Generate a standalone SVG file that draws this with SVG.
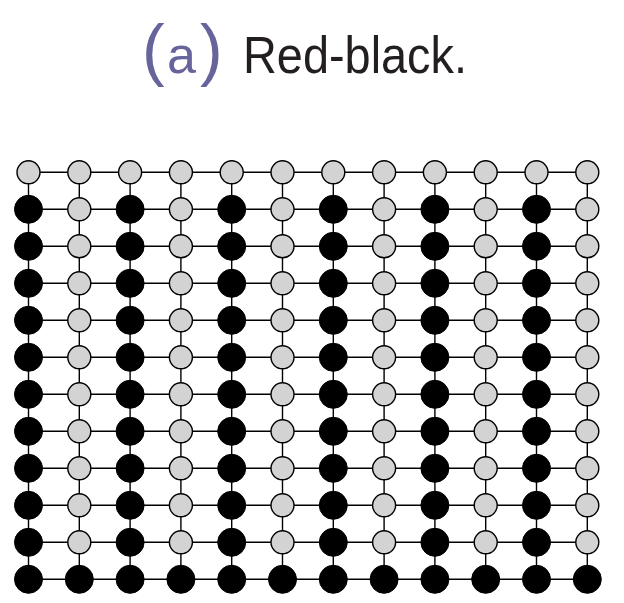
<svg xmlns="http://www.w3.org/2000/svg" width="624" height="603" viewBox="0 0 624 603">
<style>
.e{stroke:#000;stroke-width:1.4;fill:none}
.g{fill:#d3d3d3;stroke:#000;stroke-width:1.4}
.b{fill:#000;stroke:#000;stroke-width:1}
.t{font-family:"Liberation Sans",Arial,sans-serif;font-size:52px}
.p{font-size:68px}
</style>
<rect width="624" height="603" fill="#fff"/>
<g id="title">
<text class="t" y="73.3" fill="#67649c"><tspan class="p" x="142">(</tspan><tspan x="167">a</tspan><tspan class="p" x="200">)</tspan></text>
<text class="t" x="243" y="73.3" fill="#231f20" textLength="224" lengthAdjust="spacingAndGlyphs">Red-black.</text>
</g>
<g id="connectors">
<path class="e" d="M28.5 172.3H587.3M28.5 209.3H587.3M28.5 246.3H587.3M28.5 283.3H587.3M28.5 320.3H587.3M28.5 357.3H587.3M28.5 394.3H587.3M28.5 431.3H587.3M28.5 468.3H587.3M28.5 505.3H587.3M28.5 542.3H587.3M28.5 579.3H587.3"/>
<path class="e" d="M28.5 172.3V579.3M79.3 172.3V579.3M130.1 172.3V579.3M180.9 172.3V579.3M231.7 172.3V579.3M282.5 172.3V579.3M333.3 172.3V579.3M384.1 172.3V579.3M434.9 172.3V579.3M485.7 172.3V579.3M536.5 172.3V579.3M587.3 172.3V579.3"/>
</g>
<g id="row0">
<g id="n0-0"><circle class="g" cx="28.5" cy="172.3" r="11.5"/></g>
<g id="n0-1"><circle class="g" cx="79.3" cy="172.3" r="11.5"/></g>
<g id="n0-2"><circle class="g" cx="130.1" cy="172.3" r="11.5"/></g>
<g id="n0-3"><circle class="g" cx="180.9" cy="172.3" r="11.5"/></g>
<g id="n0-4"><circle class="g" cx="231.7" cy="172.3" r="11.5"/></g>
<g id="n0-5"><circle class="g" cx="282.5" cy="172.3" r="11.5"/></g>
<g id="n0-6"><circle class="g" cx="333.3" cy="172.3" r="11.5"/></g>
<g id="n0-7"><circle class="g" cx="384.1" cy="172.3" r="11.5"/></g>
<g id="n0-8"><circle class="g" cx="434.9" cy="172.3" r="11.5"/></g>
<g id="n0-9"><circle class="g" cx="485.7" cy="172.3" r="11.5"/></g>
<g id="n0-10"><circle class="g" cx="536.5" cy="172.3" r="11.5"/></g>
<g id="n0-11"><circle class="g" cx="587.3" cy="172.3" r="11.5"/></g>
</g>
<g id="row1">
<g id="n1-0"><circle class="b" cx="28.5" cy="209.3" r="14"/></g>
<g id="n1-1"><circle class="g" cx="79.3" cy="209.3" r="11.5"/></g>
<g id="n1-2"><circle class="b" cx="130.1" cy="209.3" r="14"/></g>
<g id="n1-3"><circle class="g" cx="180.9" cy="209.3" r="11.5"/></g>
<g id="n1-4"><circle class="b" cx="231.7" cy="209.3" r="14"/></g>
<g id="n1-5"><circle class="g" cx="282.5" cy="209.3" r="11.5"/></g>
<g id="n1-6"><circle class="b" cx="333.3" cy="209.3" r="14"/></g>
<g id="n1-7"><circle class="g" cx="384.1" cy="209.3" r="11.5"/></g>
<g id="n1-8"><circle class="b" cx="434.9" cy="209.3" r="14"/></g>
<g id="n1-9"><circle class="g" cx="485.7" cy="209.3" r="11.5"/></g>
<g id="n1-10"><circle class="b" cx="536.5" cy="209.3" r="14"/></g>
<g id="n1-11"><circle class="g" cx="587.3" cy="209.3" r="11.5"/></g>
</g>
<g id="row2">
<g id="n2-0"><circle class="b" cx="28.5" cy="246.3" r="14"/></g>
<g id="n2-1"><circle class="g" cx="79.3" cy="246.3" r="11.5"/></g>
<g id="n2-2"><circle class="b" cx="130.1" cy="246.3" r="14"/></g>
<g id="n2-3"><circle class="g" cx="180.9" cy="246.3" r="11.5"/></g>
<g id="n2-4"><circle class="b" cx="231.7" cy="246.3" r="14"/></g>
<g id="n2-5"><circle class="g" cx="282.5" cy="246.3" r="11.5"/></g>
<g id="n2-6"><circle class="b" cx="333.3" cy="246.3" r="14"/></g>
<g id="n2-7"><circle class="g" cx="384.1" cy="246.3" r="11.5"/></g>
<g id="n2-8"><circle class="b" cx="434.9" cy="246.3" r="14"/></g>
<g id="n2-9"><circle class="g" cx="485.7" cy="246.3" r="11.5"/></g>
<g id="n2-10"><circle class="b" cx="536.5" cy="246.3" r="14"/></g>
<g id="n2-11"><circle class="g" cx="587.3" cy="246.3" r="11.5"/></g>
</g>
<g id="row3">
<g id="n3-0"><circle class="b" cx="28.5" cy="283.3" r="14"/></g>
<g id="n3-1"><circle class="g" cx="79.3" cy="283.3" r="11.5"/></g>
<g id="n3-2"><circle class="b" cx="130.1" cy="283.3" r="14"/></g>
<g id="n3-3"><circle class="g" cx="180.9" cy="283.3" r="11.5"/></g>
<g id="n3-4"><circle class="b" cx="231.7" cy="283.3" r="14"/></g>
<g id="n3-5"><circle class="g" cx="282.5" cy="283.3" r="11.5"/></g>
<g id="n3-6"><circle class="b" cx="333.3" cy="283.3" r="14"/></g>
<g id="n3-7"><circle class="g" cx="384.1" cy="283.3" r="11.5"/></g>
<g id="n3-8"><circle class="b" cx="434.9" cy="283.3" r="14"/></g>
<g id="n3-9"><circle class="g" cx="485.7" cy="283.3" r="11.5"/></g>
<g id="n3-10"><circle class="b" cx="536.5" cy="283.3" r="14"/></g>
<g id="n3-11"><circle class="g" cx="587.3" cy="283.3" r="11.5"/></g>
</g>
<g id="row4">
<g id="n4-0"><circle class="b" cx="28.5" cy="320.3" r="14"/></g>
<g id="n4-1"><circle class="g" cx="79.3" cy="320.3" r="11.5"/></g>
<g id="n4-2"><circle class="b" cx="130.1" cy="320.3" r="14"/></g>
<g id="n4-3"><circle class="g" cx="180.9" cy="320.3" r="11.5"/></g>
<g id="n4-4"><circle class="b" cx="231.7" cy="320.3" r="14"/></g>
<g id="n4-5"><circle class="g" cx="282.5" cy="320.3" r="11.5"/></g>
<g id="n4-6"><circle class="b" cx="333.3" cy="320.3" r="14"/></g>
<g id="n4-7"><circle class="g" cx="384.1" cy="320.3" r="11.5"/></g>
<g id="n4-8"><circle class="b" cx="434.9" cy="320.3" r="14"/></g>
<g id="n4-9"><circle class="g" cx="485.7" cy="320.3" r="11.5"/></g>
<g id="n4-10"><circle class="b" cx="536.5" cy="320.3" r="14"/></g>
<g id="n4-11"><circle class="g" cx="587.3" cy="320.3" r="11.5"/></g>
</g>
<g id="row5">
<g id="n5-0"><circle class="b" cx="28.5" cy="357.3" r="14"/></g>
<g id="n5-1"><circle class="g" cx="79.3" cy="357.3" r="11.5"/></g>
<g id="n5-2"><circle class="b" cx="130.1" cy="357.3" r="14"/></g>
<g id="n5-3"><circle class="g" cx="180.9" cy="357.3" r="11.5"/></g>
<g id="n5-4"><circle class="b" cx="231.7" cy="357.3" r="14"/></g>
<g id="n5-5"><circle class="g" cx="282.5" cy="357.3" r="11.5"/></g>
<g id="n5-6"><circle class="b" cx="333.3" cy="357.3" r="14"/></g>
<g id="n5-7"><circle class="g" cx="384.1" cy="357.3" r="11.5"/></g>
<g id="n5-8"><circle class="b" cx="434.9" cy="357.3" r="14"/></g>
<g id="n5-9"><circle class="g" cx="485.7" cy="357.3" r="11.5"/></g>
<g id="n5-10"><circle class="b" cx="536.5" cy="357.3" r="14"/></g>
<g id="n5-11"><circle class="g" cx="587.3" cy="357.3" r="11.5"/></g>
</g>
<g id="row6">
<g id="n6-0"><circle class="b" cx="28.5" cy="394.3" r="14"/></g>
<g id="n6-1"><circle class="g" cx="79.3" cy="394.3" r="11.5"/></g>
<g id="n6-2"><circle class="b" cx="130.1" cy="394.3" r="14"/></g>
<g id="n6-3"><circle class="g" cx="180.9" cy="394.3" r="11.5"/></g>
<g id="n6-4"><circle class="b" cx="231.7" cy="394.3" r="14"/></g>
<g id="n6-5"><circle class="g" cx="282.5" cy="394.3" r="11.5"/></g>
<g id="n6-6"><circle class="b" cx="333.3" cy="394.3" r="14"/></g>
<g id="n6-7"><circle class="g" cx="384.1" cy="394.3" r="11.5"/></g>
<g id="n6-8"><circle class="b" cx="434.9" cy="394.3" r="14"/></g>
<g id="n6-9"><circle class="g" cx="485.7" cy="394.3" r="11.5"/></g>
<g id="n6-10"><circle class="b" cx="536.5" cy="394.3" r="14"/></g>
<g id="n6-11"><circle class="g" cx="587.3" cy="394.3" r="11.5"/></g>
</g>
<g id="row7">
<g id="n7-0"><circle class="b" cx="28.5" cy="431.3" r="14"/></g>
<g id="n7-1"><circle class="g" cx="79.3" cy="431.3" r="11.5"/></g>
<g id="n7-2"><circle class="b" cx="130.1" cy="431.3" r="14"/></g>
<g id="n7-3"><circle class="g" cx="180.9" cy="431.3" r="11.5"/></g>
<g id="n7-4"><circle class="b" cx="231.7" cy="431.3" r="14"/></g>
<g id="n7-5"><circle class="g" cx="282.5" cy="431.3" r="11.5"/></g>
<g id="n7-6"><circle class="b" cx="333.3" cy="431.3" r="14"/></g>
<g id="n7-7"><circle class="g" cx="384.1" cy="431.3" r="11.5"/></g>
<g id="n7-8"><circle class="b" cx="434.9" cy="431.3" r="14"/></g>
<g id="n7-9"><circle class="g" cx="485.7" cy="431.3" r="11.5"/></g>
<g id="n7-10"><circle class="b" cx="536.5" cy="431.3" r="14"/></g>
<g id="n7-11"><circle class="g" cx="587.3" cy="431.3" r="11.5"/></g>
</g>
<g id="row8">
<g id="n8-0"><circle class="b" cx="28.5" cy="468.3" r="14"/></g>
<g id="n8-1"><circle class="g" cx="79.3" cy="468.3" r="11.5"/></g>
<g id="n8-2"><circle class="b" cx="130.1" cy="468.3" r="14"/></g>
<g id="n8-3"><circle class="g" cx="180.9" cy="468.3" r="11.5"/></g>
<g id="n8-4"><circle class="b" cx="231.7" cy="468.3" r="14"/></g>
<g id="n8-5"><circle class="g" cx="282.5" cy="468.3" r="11.5"/></g>
<g id="n8-6"><circle class="b" cx="333.3" cy="468.3" r="14"/></g>
<g id="n8-7"><circle class="g" cx="384.1" cy="468.3" r="11.5"/></g>
<g id="n8-8"><circle class="b" cx="434.9" cy="468.3" r="14"/></g>
<g id="n8-9"><circle class="g" cx="485.7" cy="468.3" r="11.5"/></g>
<g id="n8-10"><circle class="b" cx="536.5" cy="468.3" r="14"/></g>
<g id="n8-11"><circle class="g" cx="587.3" cy="468.3" r="11.5"/></g>
</g>
<g id="row9">
<g id="n9-0"><circle class="b" cx="28.5" cy="505.3" r="14"/></g>
<g id="n9-1"><circle class="g" cx="79.3" cy="505.3" r="11.5"/></g>
<g id="n9-2"><circle class="b" cx="130.1" cy="505.3" r="14"/></g>
<g id="n9-3"><circle class="g" cx="180.9" cy="505.3" r="11.5"/></g>
<g id="n9-4"><circle class="b" cx="231.7" cy="505.3" r="14"/></g>
<g id="n9-5"><circle class="g" cx="282.5" cy="505.3" r="11.5"/></g>
<g id="n9-6"><circle class="b" cx="333.3" cy="505.3" r="14"/></g>
<g id="n9-7"><circle class="g" cx="384.1" cy="505.3" r="11.5"/></g>
<g id="n9-8"><circle class="b" cx="434.9" cy="505.3" r="14"/></g>
<g id="n9-9"><circle class="g" cx="485.7" cy="505.3" r="11.5"/></g>
<g id="n9-10"><circle class="b" cx="536.5" cy="505.3" r="14"/></g>
<g id="n9-11"><circle class="g" cx="587.3" cy="505.3" r="11.5"/></g>
</g>
<g id="row10">
<g id="n10-0"><circle class="b" cx="28.5" cy="542.3" r="14"/></g>
<g id="n10-1"><circle class="g" cx="79.3" cy="542.3" r="11.5"/></g>
<g id="n10-2"><circle class="b" cx="130.1" cy="542.3" r="14"/></g>
<g id="n10-3"><circle class="g" cx="180.9" cy="542.3" r="11.5"/></g>
<g id="n10-4"><circle class="b" cx="231.7" cy="542.3" r="14"/></g>
<g id="n10-5"><circle class="g" cx="282.5" cy="542.3" r="11.5"/></g>
<g id="n10-6"><circle class="b" cx="333.3" cy="542.3" r="14"/></g>
<g id="n10-7"><circle class="g" cx="384.1" cy="542.3" r="11.5"/></g>
<g id="n10-8"><circle class="b" cx="434.9" cy="542.3" r="14"/></g>
<g id="n10-9"><circle class="g" cx="485.7" cy="542.3" r="11.5"/></g>
<g id="n10-10"><circle class="b" cx="536.5" cy="542.3" r="14"/></g>
<g id="n10-11"><circle class="g" cx="587.3" cy="542.3" r="11.5"/></g>
</g>
<g id="row11">
<g id="n11-0"><circle class="b" cx="28.5" cy="579.3" r="14"/></g>
<g id="n11-1"><circle class="b" cx="79.3" cy="579.3" r="14"/></g>
<g id="n11-2"><circle class="b" cx="130.1" cy="579.3" r="14"/></g>
<g id="n11-3"><circle class="b" cx="180.9" cy="579.3" r="14"/></g>
<g id="n11-4"><circle class="b" cx="231.7" cy="579.3" r="14"/></g>
<g id="n11-5"><circle class="b" cx="282.5" cy="579.3" r="14"/></g>
<g id="n11-6"><circle class="b" cx="333.3" cy="579.3" r="14"/></g>
<g id="n11-7"><circle class="b" cx="384.1" cy="579.3" r="14"/></g>
<g id="n11-8"><circle class="b" cx="434.9" cy="579.3" r="14"/></g>
<g id="n11-9"><circle class="b" cx="485.7" cy="579.3" r="14"/></g>
<g id="n11-10"><circle class="b" cx="536.5" cy="579.3" r="14"/></g>
<g id="n11-11"><circle class="b" cx="587.3" cy="579.3" r="14"/></g>
</g>
</svg>
